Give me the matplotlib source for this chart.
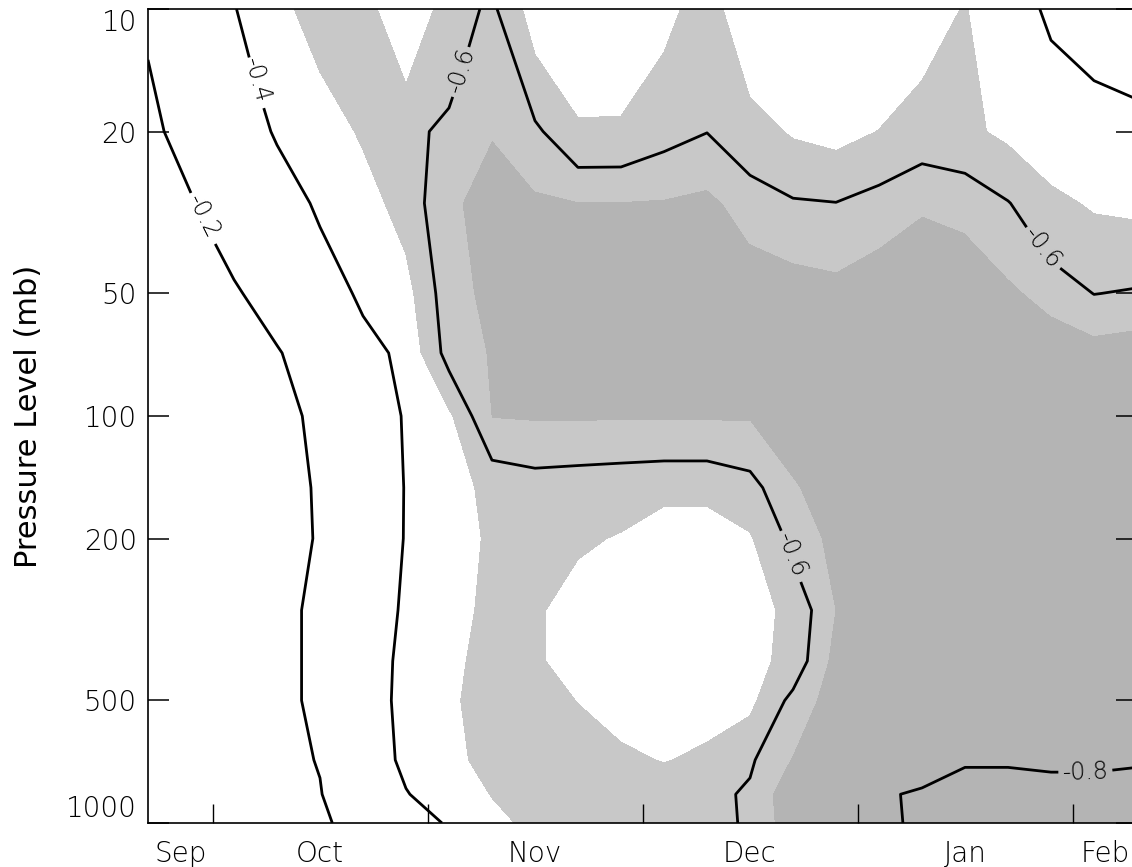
import numpy as np
import matplotlib
matplotlib.use("Agg")
import matplotlib.pyplot as plt
from matplotlib.ticker import FixedLocator, NullLocator, FixedFormatter

# ---- data -------------------------------------------------------------
months = ["Sep", "Oct", "Nov", "Dec", "Jan", "Feb"]
month_centers = [0.75, 4, 9, 14, 19, 22.25]      # time-step position of month labels
month_bounds = [1.5, 6.5, 11.5, 16.5, 21.5]      # month boundaries (tick marks)
steps = np.arange(24)                              # time steps Sep -> Feb
plev = [10, 20, 30, 50, 70, 100, 150, 200, 300, 400, 500, 700, 850, 1000]
ytick_vals = [10, 20, 50, 100, 200, 500, 1000]
ytick_labels = ["10", "20", "50", "100", "200", "500", "1000"]

r10 = [-0.215, -0.32, -0.395, -0.48, -0.53, -0.544, -0.41, -0.549, -0.62, -0.45, -0.42, -0.42,
       -0.475, -0.54, -0.432, -0.42, -0.42, -0.42, -0.46, -0.505, -0.434, -0.388, -0.35, -0.32]
r20 = [-0.17, -0.25, -0.34, -0.41, -0.46, -0.51, -0.58, -0.617, -0.697, -0.62, -0.514, -0.516,
       -0.565, -0.598, -0.536, -0.49, -0.47, -0.502, -0.54, -0.52, -0.48, -0.45, -0.45, -0.44]
r30 = [-0.12, -0.19, -0.265, -0.347, -0.416, -0.464, -0.535, -0.687, -0.73, -0.72, -0.705, -0.705,
       -0.71, -0.73, -0.65, -0.61, -0.602, -0.64, -0.69, -0.67, -0.605, -0.52, -0.49, -0.48]
r50 = [-0.07, -0.126, -0.185, -0.258, -0.342, -0.419, -0.465, -0.66, -0.73, -0.74, -0.74, -0.74,
       -0.74, -0.75, -0.78, -0.76, -0.74, -0.78, -0.78, -0.78, -0.725, -0.66, -0.598, -0.61]
r70 = [-0.04, -0.084, -0.137, -0.19, -0.274, -0.363, -0.425, -0.64, -0.71, -0.74, -0.75, -0.75,
       -0.75, -0.76, -0.77, -0.77, -0.77, -0.78, -0.78, -0.78, -0.78, -0.78, -0.75, -0.77]
r100 = [-0.02, -0.05, -0.1, -0.16, -0.228, -0.322, -0.41, -0.48, -0.705, -0.71, -0.71, -0.71,
        -0.71, -0.71, -0.71, -0.73, -0.75, -0.76, -0.77, -0.77, -0.78, -0.78, -0.77, -0.77]
r150 = [-0.01, -0.03, -0.08, -0.14, -0.216, -0.31, -0.405, -0.47, -0.52, -0.55, -0.54, -0.53,
        -0.52, -0.52, -0.56, -0.695, -0.73, -0.75, -0.76, -0.76, -0.76, -0.76, -0.76, -0.76]
r200 = [-0.01, -0.03, -0.08, -0.15, -0.21, -0.31, -0.406, -0.47, -0.51, -0.52, -0.51, -0.495,
        -0.46, -0.46, -0.49, -0.625, -0.74, -0.76, -0.76, -0.76, -0.76, -0.76, -0.76, -0.76]
r300 = [-0.02, -0.05, -0.1, -0.18, -0.215, -0.33, -0.416, -0.47, -0.52, -0.51, -0.47, -0.44,
        -0.43, -0.44, -0.47, -0.52, -0.705, -0.74, -0.76, -0.76, -0.76, -0.76, -0.76, -0.76]
r400 = [-0.03, -0.05, -0.1, -0.18, -0.215, -0.344, -0.425, -0.48, -0.53, -0.51, -0.47, -0.43,
        -0.42, -0.43, -0.47, -0.53, -0.74, -0.76, -0.76, -0.76, -0.76, -0.76, -0.76, -0.76]
r500 = [-0.03, -0.05, -0.1, -0.18, -0.215, -0.346, -0.428, -0.485, -0.54, -0.53, -0.498, -0.46,
        -0.45, -0.46, -0.475, -0.63, -0.76, -0.77, -0.77, -0.77, -0.77, -0.77, -0.77, -0.77]
r700 = [-0.04, -0.07, -0.12, -0.17, -0.205, -0.334, -0.422, -0.475, -0.53, -0.55, -0.54, -0.52,
        -0.495, -0.52, -0.585, -0.71, -0.75, -0.77, -0.78, -0.795, -0.795, -0.79, -0.79, -0.795]
r850 = [-0.06, -0.09, -0.13, -0.17, -0.195, -0.296, -0.395, -0.45, -0.503, -0.53, -0.55, -0.56,
        -0.565, -0.57, -0.615, -0.78, -0.79, -0.795, -0.805, -0.82, -0.82, -0.82, -0.82, -0.82]
r1000 = [-0.08, -0.12, -0.15, -0.17, -0.18, -0.25, -0.334, -0.413, -0.478, -0.52, -0.54, -0.56,
         -0.57, -0.575, -0.61, -0.77, -0.78, -0.79, -0.808, -0.82, -0.82, -0.82, -0.82, -0.82]

corr = np.array([r10, r20, r30, r50, r70, r100, r150, r200, r300, r400, r500, r700, r850, r1000])

shade_levels = [-1.0, -0.7, -0.5]
line_levels = [-0.8, -0.6, -0.4, -0.2]

# ---- figure -----------------------------------------------------------
plt.rcParams['font.family'] = ['DejaVu Sans']
plt.rcParams['font.weight'] = 'light'
W, H = 1132, 867
fig = plt.figure(figsize=(W / 100, H / 100), dpi=100)
ax = fig.add_axes([148 / W, 1 - 823 / H, 989 / W, 814 / H])

ax.set_yscale('log')
ax.set_xlim(0, 23)
ax.set_ylim(1000, 10)

ax.contourf(steps, plev, corr, levels=shade_levels,
            colors=['#b4b4b4', '#c8c8c8'])
cs = ax.contour(steps, plev, corr, levels=line_levels,
                colors='black', linewidths=2.0, linestyles='solid')

label_pos = [(1.40, 32), (2.49, 15), (7.14, 14), (20.74, 39), (14.93, 220), (21.8, 790)]
ax.clabel(cs, fmt='%.1f', manual=label_pos, inline=True, inline_spacing=4,
          fontsize=17, colors='black')

txt_color = 'black'
# y axis
ax.yaxis.set_major_locator(FixedLocator(ytick_vals))
ax.yaxis.set_major_formatter(FixedFormatter(ytick_labels))
ax.yaxis.set_minor_locator(NullLocator())
ax.tick_params(axis='y', which='major', direction='in', length=15, width=1.1,
               left=True, right=True, labelsize=20, pad=8, labelcolor=txt_color)
ylabs = ax.get_yticklabels()
ylabs[0].set_verticalalignment('top')
ylabs[-1].set_verticalalignment('bottom')

# x axis: tick marks at month boundaries, labels at month centres
ax.xaxis.set_major_locator(FixedLocator(month_centers))
ax.xaxis.set_major_formatter(FixedFormatter(months))
ax.xaxis.set_minor_locator(FixedLocator(month_bounds))
ax.tick_params(axis='x', which='major', length=0, labelsize=20, pad=12,
               labelcolor=txt_color)
ax.tick_params(axis='x', which='minor', direction='in', length=14, width=1.0,
               bottom=True, top=False)

ax.set_ylabel("Pressure Level (mb)", fontsize=22, color=txt_color)
ax.yaxis.set_label_coords(-0.106, 0.5)

for s in ax.spines.values():
    s.set_linewidth(1.2)
    s.set_color('black')

fig.savefig("out.png", dpi=100)
